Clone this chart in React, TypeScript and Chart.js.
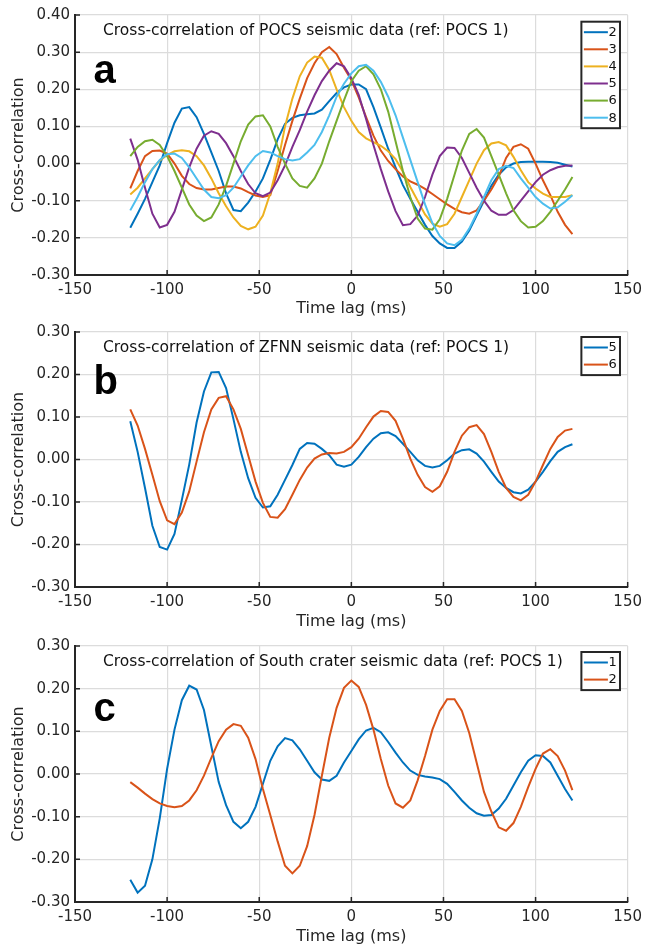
import React, { useEffect, useRef } from "react";
import { Chart, registerables } from "chart.js";

Chart.register(...registerables);

// ---- Data ----
const lags = [
  -120, -116, -112, -108, -104, -100, -96, -92, -88, -84, -80, -76, -72, -68, -64, -60, -56, -52, -48, -44, -40,
  -36, -32, -28, -24, -20, -16, -12, -8, -4, 0, 4, 8, 12, 16, 20, 24, 28, 32, 36, 40, 44, 48, 52, 56, 60, 64, 68,
  72, 76, 80, 84, 88, 92, 96, 100, 104, 108, 112, 116, 120,
];

const xTicks = [-150, -100, -50, 0, 50, 100, 150];

// Panel a: POCS stations
const pocs2 = [
  -0.173, -0.135, -0.095, -0.05, -0.005, 0.055, 0.11, 0.148, 0.152, 0.125, 0.08, 0.03, -0.02, -0.08, -0.125, -0.128,
  -0.105, -0.075, -0.04, 0.01, 0.065, 0.107, 0.123, 0.13, 0.133, 0.135, 0.145, 0.168, 0.19, 0.205, 0.213, 0.213, 0.2,
  0.152, 0.097, 0.04, -0.01, -0.058, -0.095, -0.13, -0.165, -0.195, -0.215, -0.227, -0.227, -0.21, -0.18, -0.14, -0.1,
  -0.06, -0.03, -0.01, 0.0, 0.004, 0.005, 0.005, 0.005, 0.004, 0.002, -0.003, -0.008,
];
const pocs3 = [
  -0.067, -0.02, 0.02, 0.034, 0.035, 0.027, 0.0, -0.033, -0.055, -0.066, -0.07, -0.07, -0.066, -0.062, -0.062, -0.067,
  -0.077, -0.086, -0.09, -0.085, -0.02, 0.05, 0.115, 0.175, 0.23, 0.27, 0.3, 0.314, 0.295, 0.258, 0.225, 0.178, 0.125,
  0.075, 0.035, 0.007, -0.015, -0.035, -0.048, -0.057, -0.068, -0.082, -0.096, -0.11, -0.122, -0.131, -0.135, -0.126,
  -0.1, -0.07, -0.035, 0.015, 0.045, 0.052, 0.04, 0.0, -0.045, -0.085, -0.13, -0.165, -0.19,
];
const pocs4 = [
  -0.083, -0.065, -0.04, -0.015, 0.008, 0.023, 0.033, 0.036, 0.033, 0.02, -0.005, -0.04, -0.08, -0.115, -0.145, -0.168,
  -0.177, -0.17, -0.14, -0.08, 0.0, 0.1, 0.175, 0.235, 0.272, 0.288, 0.285, 0.252, 0.2, 0.152, 0.115, 0.085, 0.068,
  0.058, 0.048, 0.033, 0.012, -0.022, -0.063, -0.1, -0.137, -0.162, -0.17, -0.163, -0.135, -0.09, -0.045, 0.0, 0.036,
  0.054, 0.058, 0.049, 0.018, -0.018, -0.05, -0.067, -0.081, -0.09, -0.09, -0.09, -0.085,
];
const pocs5 = [
  0.067, 0.01, -0.065, -0.135, -0.172, -0.165, -0.13, -0.07, -0.01, 0.04, 0.075, 0.087, 0.08, 0.055, 0.02, -0.02,
  -0.055, -0.08, -0.088, -0.078, -0.045, -0.005, 0.045, 0.09, 0.14, 0.184, 0.222, 0.25, 0.27, 0.262, 0.23, 0.185, 0.12,
  0.05, -0.015, -0.075, -0.128, -0.166, -0.163, -0.14, -0.09, -0.03, 0.02, 0.043, 0.042, 0.015, -0.025, -0.065, -0.1,
  -0.127, -0.138, -0.138, -0.125, -0.1, -0.075, -0.05, -0.03, -0.018, -0.01, -0.006, -0.005,
];
const pocs6 = [
  0.02, 0.045, 0.06, 0.064, 0.05, 0.02, -0.02, -0.065, -0.11, -0.14, -0.155, -0.145, -0.11, -0.06, 0.0, 0.06, 0.105,
  0.127, 0.13, 0.1, 0.045, 0.0, -0.04, -0.06, -0.065, -0.04, 0.0, 0.06, 0.115, 0.17, 0.222, 0.25, 0.262, 0.24, 0.2,
  0.14, 0.06, -0.02, -0.09, -0.148, -0.175, -0.178, -0.15, -0.095, -0.03, 0.035, 0.08, 0.093, 0.07, 0.02, -0.03, -0.08,
  -0.126, -0.155, -0.172, -0.17, -0.155, -0.13, -0.1, -0.07, -0.036,
];
const pocs8 = [
  -0.126, -0.09, -0.05, -0.015, 0.01, 0.025, 0.027, 0.015, -0.01, -0.04, -0.07, -0.09, -0.093, -0.085, -0.065, -0.035,
  -0.005, 0.02, 0.034, 0.03, 0.02, 0.012, 0.008, 0.012, 0.03, 0.05, 0.085, 0.13, 0.18, 0.215, 0.243, 0.262, 0.266,
  0.25, 0.22, 0.18, 0.13, 0.07, 0.01, -0.05, -0.11, -0.16, -0.195, -0.215, -0.22, -0.205, -0.175, -0.135, -0.09,
  -0.045, -0.015, -0.006, -0.012, -0.04, -0.065, -0.09, -0.108, -0.121, -0.118, -0.103, -0.085,
];

// Panel b: ZFNN stations
const zfnn5 = [
  0.09, 0.018, -0.067, -0.156, -0.206, -0.212, -0.175, -0.095, -0.012, 0.087, 0.16, 0.205, 0.206, 0.168, 0.095, 0.018,
  -0.044, -0.09, -0.113, -0.11, -0.083, -0.048, -0.013, 0.025, 0.039, 0.037, 0.025, 0.01, -0.012, -0.017, -0.012,
  0.006, 0.029, 0.049, 0.062, 0.064, 0.055, 0.037, 0.018, -0.002, -0.015, -0.019, -0.015, -0.002, 0.014, 0.022, 0.024,
  0.014, -0.005, -0.029, -0.052, -0.067, -0.077, -0.08, -0.071, -0.052, -0.029, -0.004, 0.018, 0.029, 0.036,
];
const zfnn6 = [
  0.118, 0.08, 0.025, -0.036, -0.098, -0.143, -0.152, -0.125, -0.075, -0.005, 0.064, 0.118, 0.145, 0.149, 0.118,
  0.072, 0.01, -0.052, -0.102, -0.135, -0.137, -0.117, -0.083, -0.048, -0.019, 0.002, 0.012, 0.015, 0.014, 0.018,
  0.029, 0.049, 0.076, 0.101, 0.114, 0.112, 0.091, 0.049, 0.002, -0.036, -0.065, -0.076, -0.063, -0.029, 0.018, 0.056,
  0.076, 0.081, 0.06, 0.018, -0.029, -0.067, -0.088, -0.096, -0.083, -0.052, -0.013, 0.025, 0.053, 0.068, 0.072,
];

// Panel c: South crater stations
const south1 = [
  -0.248, -0.278, -0.262, -0.2, -0.104, 0.012, 0.104, 0.173, 0.207, 0.198, 0.15, 0.065, -0.019, -0.073, -0.112,
  -0.127, -0.112, -0.077, -0.023, 0.031, 0.065, 0.084, 0.079, 0.058, 0.031, 0.004, -0.013, -0.016, -0.004, 0.027,
  0.054, 0.081, 0.102, 0.108, 0.098, 0.075, 0.05, 0.027, 0.008, -0.002, -0.006, -0.008, -0.012, -0.023, -0.042, -0.062,
  -0.079, -0.092, -0.098, -0.096, -0.081, -0.058, -0.027, 0.004, 0.031, 0.044, 0.042, 0.027, -0.004, -0.035, -0.062,
];
const south2 = [
  -0.019, -0.032, -0.046, -0.059, -0.069, -0.075, -0.078, -0.075, -0.062, -0.038, -0.004, 0.038, 0.077, 0.104, 0.117,
  0.113, 0.085, 0.035, -0.035, -0.096, -0.158, -0.215, -0.233, -0.215, -0.169, -0.096, -0.004, 0.085, 0.155, 0.202,
  0.219, 0.204, 0.162, 0.104, 0.035, -0.027, -0.069, -0.079, -0.062, -0.015, 0.042, 0.104, 0.148, 0.175, 0.175, 0.148,
  0.096, 0.027, -0.042, -0.088, -0.125, -0.133, -0.115, -0.077, -0.031, 0.012, 0.048, 0.058, 0.042, 0.008, -0.038,
];

// ---- Styling ----
const C_BLUE = "#0072BD";
const C_ORANGE = "#D95319";
const C_YELLOW = "#EDB120";
const C_PURPLE = "#7E2F8E";
const C_GREEN = "#77AC30";
const C_CYAN = "#4DBEEE";

const FONT = '"DejaVu Sans", "Liberation Sans", sans-serif';
const AXIS = "#262626";

type Series = { label: string; color: string; values: number[] };
type Panel = {
  key: string;
  top: number;
  height: number;
  padTop: number;
  axisH: number;
  titlePadBottom: number;
  yMin: number;
  yMax: number;
  title: string;
  letter: string;
  letterBaseline: number;
  legendTop: number;
  series: Series[];
};

const panels: Panel[] = [
  {
    key: "a",
    top: 0,
    height: 318,
    padTop: 15,
    axisH: 43,
    titlePadBottom: 0,
    yMin: -0.3,
    yMax: 0.4,
    title: "Cross-correlation of POCS seismic data (ref: POCS 1)",
    letter: "a",
    letterBaseline: 68,
    legendTop: 6.7,
    series: [
      { label: "2", color: C_BLUE, values: pocs2 },
      { label: "3", color: C_ORANGE, values: pocs3 },
      { label: "4", color: C_YELLOW, values: pocs4 },
      { label: "5", color: C_PURPLE, values: pocs5 },
      { label: "6", color: C_GREEN, values: pocs6 },
      { label: "8", color: C_CYAN, values: pocs8 },
    ],
  },
  {
    key: "b",
    top: 318,
    height: 314,
    padTop: 10,
    axisH: 45,
    titlePadBottom: 1,
    yMin: -0.3,
    yMax: 0.3,
    title: "Cross-correlation of ZFNN seismic data (ref: POCS 1)",
    letter: "b",
    letterBaseline: 62,
    legendTop: 5,
    series: [
      { label: "5", color: C_BLUE, values: zfnn5 },
      { label: "6", color: C_ORANGE, values: zfnn6 },
    ],
  },
  {
    key: "c",
    top: 632,
    height: 315,
    padTop: 10,
    axisH: 45,
    titlePadBottom: 1,
    yMin: -0.3,
    yMax: 0.3,
    title: "Cross-correlation of South crater seismic data (ref: POCS 1)",
    letter: "c",
    letterBaseline: 75,
    legendTop: 6,
    series: [
      { label: "1", color: C_BLUE, values: south1 },
      { label: "2", color: C_ORANGE, values: south2 },
    ],
  },
];

function overlayPlugin(p: Panel) {
  return {
    id: "overlay" + p.key,
    afterDraw(chart: any) {
      const { ctx, chartArea: ca, scales } = chart;
      const xs = scales.x;
      const ys = scales.y;
      ctx.save();
      // inward tick marks
      ctx.strokeStyle = AXIS;
      ctx.lineWidth = 1.5;
      ctx.beginPath();
      xs.ticks.forEach((t: any) => {
        const px = xs.getPixelForValue(t.value);
        ctx.moveTo(px, ca.bottom);
        ctx.lineTo(px, ca.bottom - 5);
      });
      ys.ticks.forEach((t: any) => {
        const py = ys.getPixelForValue(t.value);
        ctx.moveTo(ca.left, py);
        ctx.lineTo(ca.left + 5, py);
      });
      ctx.stroke();

      // in-plot title
      ctx.fillStyle = "#111";
      ctx.font = `15.5px ${FONT}`;
      ctx.textAlign = "left";
      ctx.textBaseline = "alphabetic";
      ctx.fillText(p.title, ca.left + 28, ca.top + 19.5);

      // panel letter
      ctx.fillStyle = "#000";
      ctx.font = `bold 40px "Liberation Sans", Arial, sans-serif`;
      ctx.fillText(p.letter, ca.left + 18.5, ca.top + p.letterBaseline);

      // legend box
      const n = p.series.length;
      const bw = 38.6;
      const bx = ca.right - 46.3;
      const by = ca.top + p.legendTop;
      const rowH = 17.1;
      const bh = (n - 1) * rowH + 21;
      ctx.fillStyle = "#fff";
      ctx.fillRect(bx, by, bw, bh);
      ctx.strokeStyle = AXIS;
      ctx.lineWidth = 2;
      ctx.strokeRect(bx, by, bw, bh);
      ctx.font = `13px ${FONT}`;
      ctx.textBaseline = "middle";
      p.series.forEach((s, i) => {
        const y = by + 10.5 + i * rowH;
        ctx.strokeStyle = s.color;
        ctx.lineWidth = 2;
        ctx.beginPath();
        ctx.moveTo(bx + 2.5, y);
        ctx.lineTo(bx + 26.5, y);
        ctx.stroke();
        ctx.fillStyle = "#111";
        ctx.fillText(s.label, bx + 27, y + 0.5);
      });
      ctx.restore();
    },
  };
}

function fmtY(v: any) {
  const n = Number(v);
  if (Math.abs(n) < 1e-9) return "0.00";
  return n.toFixed(2);
}

function PanelChart({ p }: { p: Panel }) {
  const ref = useRef<HTMLCanvasElement>(null);
  useEffect(() => {
    const n = p.series.length;
    const chart = new Chart(ref.current as HTMLCanvasElement, {
      type: "line",
      data: {
        datasets: p.series.map((s, i) => ({
          label: s.label,
          data: lags.map((x, j) => ({ x, y: s.values[j] })),
          borderColor: s.color,
          backgroundColor: s.color,
          borderWidth: 2,
          pointRadius: 0,
          fill: false,
          tension: 0,
          order: n - i,
        })),
      },
      options: {
        responsive: false,
        animation: false,
        devicePixelRatio: 1,
        layout: { padding: { top: p.padTop, right: 16, left: 0, bottom: 0 } },
        plugins: {
          legend: { display: false },
          tooltip: { enabled: false },
          title: { display: false },
        },
        scales: {
          x: {
            type: "linear",
            min: -150,
            max: 150,
            afterBuildTicks: (scale: any) => {
              scale.ticks = xTicks.map((v) => ({ value: v }));
            },
            ticks: {
              padding: 6,
              color: AXIS,
              font: { family: FONT, size: 15 },
              maxRotation: 0,
              autoSkip: false,
            },
            grid: { color: "#dcdcdc", lineWidth: 1.2, drawTicks: false },
            border: { display: true, color: AXIS, width: 2 },
            title: {
              display: true,
              text: "Time lag (ms)",
              color: AXIS,
              font: { family: FONT, size: 16 },
              padding: { top: 0, bottom: p.titlePadBottom },
            },
            afterFit: (scale: any) => {
              scale.height = p.axisH;
            },
          },
          y: {
            type: "linear",
            min: p.yMin,
            max: p.yMax,
            ticks: {
              stepSize: 0.1,
              padding: 5,
              color: AXIS,
              font: { family: FONT, size: 15 },
              callback: fmtY,
            },
            grid: { color: "#dcdcdc", lineWidth: 1.2, drawTicks: false },
            border: { display: true, color: AXIS, width: 2 },
            title: {
              display: true,
              text: "Cross-correlation",
              color: AXIS,
              font: { family: FONT, size: 16 },
              padding: { top: 9, bottom: 0 },
            },
            afterFit: (scale: any) => {
              scale.width = 75;
            },
          },
        },
      } as any,
      plugins: [overlayPlugin(p)],
    });
    return () => chart.destroy();
  }, [p]);
  return (
    <canvas
      ref={ref}
      width={648}
      height={p.height}
      style={{ position: "absolute", left: 0, top: p.top, width: 648, height: p.height }}
    />
  );
}

export default function App() {
  return (
    <div
      style={{
        position: "absolute",
        left: 0,
        top: 0,
        width: 648,
        height: 947,
        background: "#fff",
        overflow: "hidden",
      }}
    >
      {panels.map((p) => (
        <PanelChart key={p.key} p={p} />
      ))}
    </div>
  );
}
